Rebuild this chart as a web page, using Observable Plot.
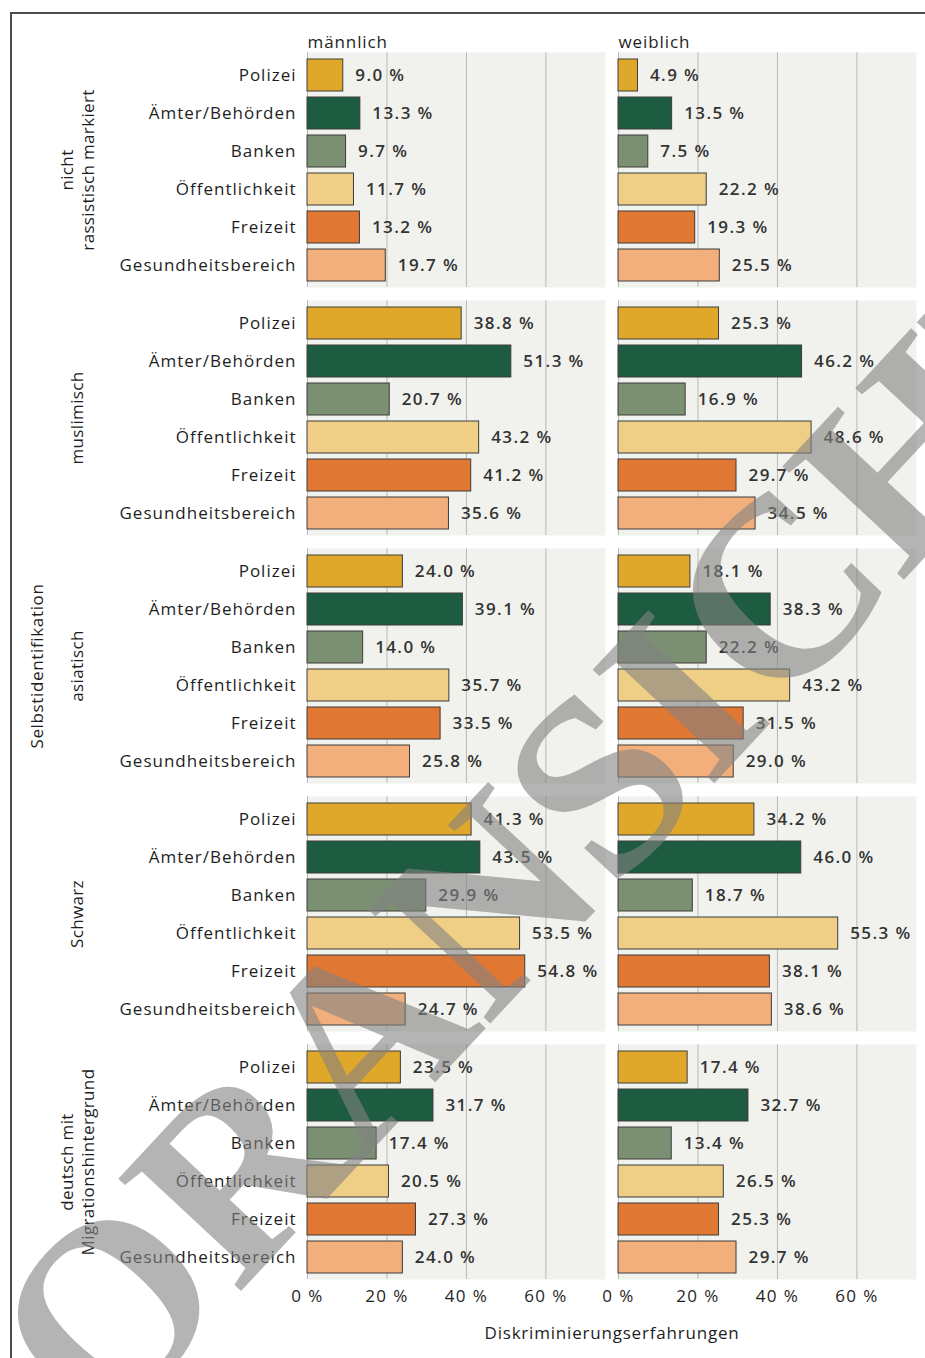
<!DOCTYPE html>
<html>
<head>
<meta charset="utf-8">
<script src="https://cdn.jsdelivr.net/npm/d3@7"></script>
<script src="https://cdn.jsdelivr.net/npm/@observablehq/plot@0.6"></script>
<style>
  html, body { margin: 0; padding: 0; background: #fff; }
  #wrap { position: relative; width: 925px; height: 1358px; overflow: hidden; }
  #frame { position: absolute; left: 10px; top: 12px; width: 1200px; height: 1600px; border: 2px solid #4d4d4d; box-sizing: border-box; }
  #chart { position: absolute; left: 0; top: 0; }
</style>
</head>
<body>
<div id="wrap"><div id="frame"></div><div id="chart"></div></div>
<script>
const genders = ["männlich", "weiblich"];
const groups = ["nicht\nrassistisch markiert", "muslimisch", "asiatisch", "Schwarz", "deutsch mit\nMigrationshintergrund"];
const categories = ["Polizei", "Ämter/Behörden", "Banken", "Öffentlichkeit", "Freizeit", "Gesundheitsbereich"];
const colors = ["#e0a82a", "#1e5c41", "#7b8f73", "#efce85", "#e07733", "#f2ae7b"];

// values per group, in category order
const maleValues = [
  [9.0, 13.3, 9.7, 11.7, 13.2, 19.7],
  [38.8, 51.3, 20.7, 43.2, 41.2, 35.6],
  [24.0, 39.1, 14.0, 35.7, 33.5, 25.8],
  [41.3, 43.5, 29.9, 53.5, 54.8, 24.7],
  [23.5, 31.7, 17.4, 20.5, 27.3, 24.0]
];
const femaleValues = [
  [4.9, 13.5, 7.5, 22.2, 19.3, 25.5],
  [25.3, 46.2, 16.9, 48.6, 29.7, 34.5],
  [18.1, 38.3, 22.2, 43.2, 31.5, 29.0],
  [34.2, 46.0, 18.7, 55.3, 38.1, 38.6],
  [17.4, 32.7, 13.4, 26.5, 25.3, 29.7]
];
const xTicks = [0, 20, 40, 60];
const xLabel = "Diskriminierungserfahrungen";
const fyLabel = "Selbstidentifikation";
const watermark = "VORANSICHT";

const rows = [];
[maleValues, femaleValues].forEach((vals, gi) => {
  vals.forEach((arr, ri) => {
    arr.forEach((v, ci) => rows.push({gender: genders[gi], group: groups[ri], category: categories[ci], value: v}));
  });
});

const font = "'Open Sans', sans-serif";

const plot = Plot.plot({
  width: 925,
  height: 1358,
  marginTop: 52,
  marginBottom: 78,
  marginLeft: 307,
  marginRight: 9,
  style: {background: "transparent", fontFamily: font, color: "#222"},
  fx: {domain: genders, paddingInner: 0.042, paddingOuter: 0, axis: null},
  fy: {domain: groups, paddingInner: 0.052, paddingOuter: 0, axis: null},
  x: {domain: [0, 75], axis: null},
  y: {domain: categories, padding: 0.16, axis: null},
  color: {domain: categories, range: colors},
  marks: [
    Plot.frame({fill: "#f1f2ed", stroke: null}),
    Plot.gridX(xTicks, {stroke: "#b9b9b9", strokeOpacity: 1, strokeWidth: 1}),
    Plot.barX(rows, {x: "value", y: "category", fx: "gender", fy: "group", fill: "category", stroke: "#3c3c3c", strokeWidth: 1}),
    Plot.text(rows, {ariaDescription: "value-labels", x: "value", y: "category", fx: "gender", fy: "group", text: d => d.value.toFixed(1) + " %", textAnchor: "start", dx: 12, fontSize: 17, fontWeight: 600, fill: "#333"}),
    Plot.axisY({tickSize: 0, tickPadding: 11, fontSize: 17, label: null, fill: "#1e1e1e"}),
    Plot.axisX({ticks: xTicks, tickSize: 0, tickPadding: 10, fontSize: 17, label: null, tickFormat: d => d + " %", fill: "#1e1e1e"}),
    // facet headers
    Plot.text(genders.map(g => ({gender: g, group: groups[0]})), {ariaDescription: "facet-header", fx: "gender", fy: "group", text: "gender", frameAnchor: "top-left", textAnchor: "start", lineAnchor: "middle", dy: -10, fontSize: 17, fill: "#1e1e1e"}),
    // group labels
    Plot.text(groups.map(g => ({gender: genders[0], group: g})), {ariaDescription: "group-labels", fx: "gender", fy: "group", text: "group", frameAnchor: "left", dx: -231, rotate: -90, textAnchor: "middle", lineAnchor: "middle", lineHeight: 1.25, fontSize: 17, fill: "#1e1e1e"}),
    // fy axis title
    Plot.text([{gender: genders[0], group: groups[2]}], {ariaDescription: "fy-title", fx: "gender", fy: "group", text: () => fyLabel, frameAnchor: "left", dx: -270, rotate: -90, textAnchor: "middle", lineAnchor: "middle", fontSize: 17, fill: "#1e1e1e"}),
    // x axis title
    Plot.text([{gender: genders[0], group: groups[4]}], {ariaDescription: "x-title", fx: "gender", fy: "group", text: () => xLabel, frameAnchor: "bottom-right", dx: 6.5, dy: 54, textAnchor: "middle", lineAnchor: "middle", fontSize: 17, fill: "#1e1e1e"}),
    // watermark
    Plot.text([{gender: genders[0], group: groups[3]}], {ariaDescription: "watermark", fx: "gender", fy: "group", text: () => watermark, frameAnchor: "middle", dx: 50, dy: -27, rotate: -47, textAnchor: "middle", lineAnchor: "middle", fontSize: 254, fontWeight: "bold", fontFamily: "'Liberation Serif', serif", fill: "#828282", fillOpacity: 0.6})
  ]
});

// letter spacing per text group (the reference font is widely tracked)
const spacing = {
  "value-labels": 1.4,
  "y-axis tick label": 1.0,
  "x-axis tick label": 1.4,
  "facet-header": 0.9,
  "group-labels": 0.35,
  "fy-title": 0.65,
  "x-title": 0.8
};
d3.select(plot).selectAll("g").each(function() {
  const key = this.getAttribute("aria-description") || this.getAttribute("aria-label");
  const s = spacing[key];
  if (s != null) d3.select(this).selectAll("text").style("letter-spacing", s + "px");
});
document.getElementById("chart").appendChild(plot);
</script>
</body>
</html>
